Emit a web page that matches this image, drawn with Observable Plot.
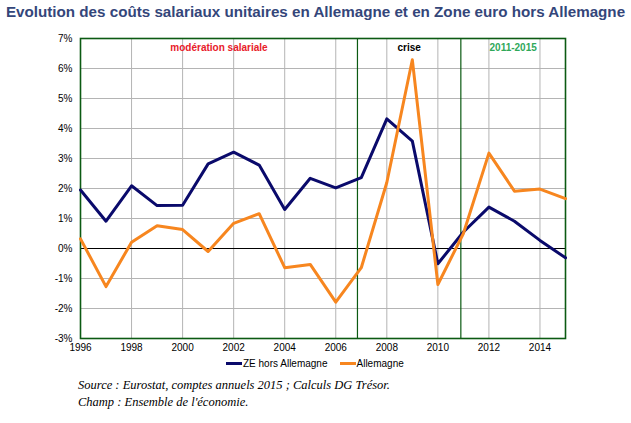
<!DOCTYPE html>
<html><head><meta charset="utf-8">
<script src="https://cdn.jsdelivr.net/npm/d3@7"></script>
<script src="https://cdn.jsdelivr.net/npm/@observablehq/plot@0.6"></script>
<style>
body{margin:0;background:#fff;width:631px;height:423px;overflow:hidden;font-family:"Liberation Sans",Arial,sans-serif;}
#title{position:absolute;left:0;top:3px;width:631px;text-align:center;font-weight:bold;font-size:15.2px;color:#34467a;white-space:nowrap;}
#chart{position:absolute;left:0;top:28px;}
#legend{position:absolute;left:226px;top:358px;font-size:10px;color:#000;display:flex;align-items:center;white-space:nowrap;}
.sw{display:inline-block;width:16px;height:3px;margin-right:1px;}
#caption{position:absolute;left:78px;top:377px;font-family:"Liberation Serif","Times New Roman",serif;font-style:italic;font-size:12.5px;line-height:17px;color:#000;}
</style></head>
<body>
<div id="title">Evolution des coûts salariaux unitaires en Allemagne et en Zone euro hors Allemagne</div>
<div id="chart"></div>
<div id="legend"></div>
<div id="caption">Source : Eurostat, comptes annuels 2015 ; Calculs DG Trésor.<br>Champ : Ensemble de l'économie.</div>
<script>
const years = [1996,1997,1998,1999,2000,2001,2002,2003,2004,2005,2006,2007,2008,2009,2010,2011,2012,2013,2014,2015];
const zeHorsAllemagne = [1.95,0.91,2.09,1.43,1.44,2.82,3.21,2.78,1.30,2.34,2.02,2.36,4.32,3.58,-0.51,0.55,1.38,0.91,0.27,-0.31];
const allemagne = [0.32,-1.27,0.21,0.76,0.63,-0.10,0.84,1.16,-0.64,-0.53,-1.79,-0.64,2.2,6.29,-1.20,0.5,3.18,1.91,1.98,1.66];
const seriesNames = ["ZE hors Allemagne","Allemagne"];
const periodLabels = ["modération salariale","crise","2011-2015"];
const periodStarts = [1996,2006.85,2010.9];
const periodEnds = [2006.85,2010.9,2015];
const xTicks = [1996,1998,2000,2002,2004,2006,2008,2010,2012,2014];
const yTicks = [-3,-2,-1,0,1,2,3,4,5,6,7];

const colors = ["#0a0a6b","#f7861f"];
const periodColors = ["#e8202a","#000000","#2fa85a"];
const frameColor = "#0b5a12";

const rows = [];
years.forEach((y,i)=>{
  rows.push({year:y,value:zeHorsAllemagne[i],serie:seriesNames[0]});
  rows.push({year:y,value:allemagne[i],serie:seriesNames[1]});
});
const periods = periodLabels.map((l,i)=>({label:l,mid:(periodStarts[i]+periodEnds[i])/2,color:periodColors[i]}));
const boundaries = periodStarts.slice(1);

const chart = Plot.plot({
  width:631, height:327,
  marginTop:10, marginBottom:17, marginLeft:80, marginRight:66,
  style:{fontFamily:"'Liberation Sans',Arial,sans-serif",fontSize:"10px",color:"#000",background:"#fff"},
  x:{domain:[1996,2015], label:null},
  y:{domain:[-3,7], label:null},
  color:{domain:seriesNames, range:colors},
  marks:[
    Plot.gridY(yTicks,{stroke:"#b4b4b4",strokeOpacity:1}),
    Plot.gridX(xTicks,{stroke:"#b4b4b4",strokeOpacity:1}),
    Plot.ruleY([0],{stroke:"#000",strokeWidth:1.2}),
    Plot.ruleX(boundaries,{stroke:frameColor,strokeWidth:1.2}),
    Plot.frame({stroke:frameColor,strokeWidth:1.6}),
    Plot.line(rows,{x:"year",y:"value",z:"serie",stroke:"serie",strokeWidth:3}),
    Plot.axisX(xTicks,{tickSize:0,tickPadding:5,tickFormat:d=>String(d),fontSize:10}),
    Plot.axisY(yTicks,{tickSize:0,tickPadding:8,tickFormat:d=>d+"%",fontSize:10}),
    Plot.text(periods,{x:"mid",y:()=>7,dy:9,text:"label",fill:"color",fontWeight:"bold",fontSize:10})
  ]
});
document.getElementById("chart").appendChild(chart);

const leg = document.getElementById("legend");
seriesNames.forEach((n,i)=>{
  const s=document.createElement("span");s.className="sw";s.style.background=colors[i];
  const t=document.createElement("span");t.textContent=n;t.style.marginRight=i===0?"12px":"0";
  leg.appendChild(s);leg.appendChild(t);
});
</script>
</body></html>
